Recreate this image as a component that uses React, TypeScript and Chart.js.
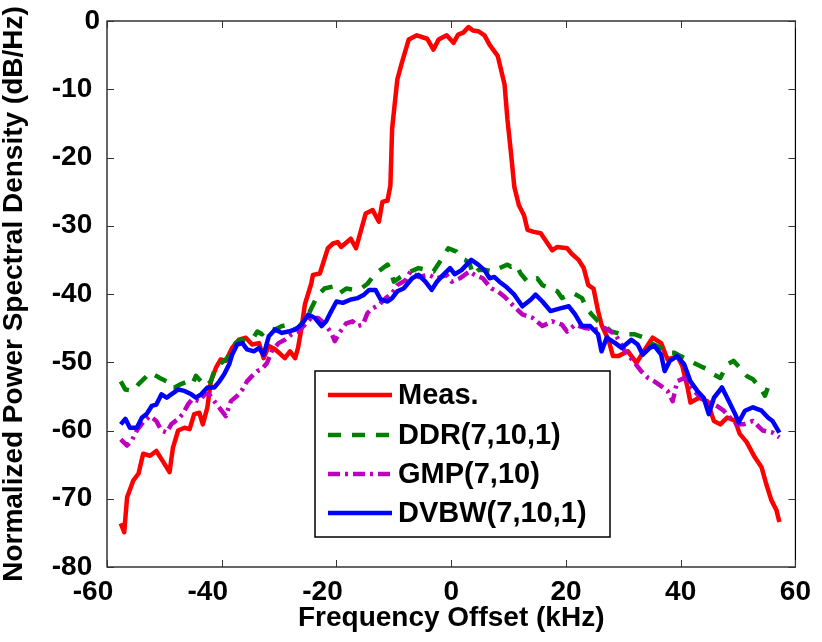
import { useEffect, useRef } from "react";
import { Chart, registerables } from "chart.js";

Chart.register(...registerables);

const FONT = '"Liberation Sans", Arial, Helvetica, sans-serif';

const xTickValues = [-60, -40, -20, 0, 20, 40, 60];
const yTickValues = [-80, -70, -60, -50, -40, -30, -20, -10, 0];
const xAxisTitle = "Frequency Offset (kHz)";
const yAxisTitle = "Normalized Power Spectral Density (dB/Hz)";

const seriesLabels = ["Meas.", "DDR(7,10,1)", "GMP(7,10)", "DVBW(7,10,1)"];
const seriesColors = ["#ff0000", "#008000", "#bf00bf", "#0000ff"];
const seriesDashes: number[][] = [[], [13, 11], [12, 5, 3, 5], []];

const measX = [-57.6,-57.0,-56.5,-55.4,-54.5,-53.7,-52.5,-51.4,-50.2,-49.1,-48.5,-47.6,-46.5,-45.6,-44.8,-43.9,-43.3,-42.5,-41.9,-41.0,-40.2,-39.3,-38.2,-37.0,-35.8,-34.7,-33.5,-32.7,-31.8,-30.7,-29.0,-28.1,-27.2,-26.7,-26.1,-25.5,-24.4,-24.1,-22.9,-21.5,-20.6,-19.8,-19.2,-17.5,-16.6,-14.9,-13.7,-12.6,-12.0,-11.1,-10.6,-10.3,-9.4,-8.6,-7.4,-6.0,-4.2,-3.1,-2.2,-0.8,0.4,1.2,2.1,3.0,3.8,4.7,5.8,6.7,8.1,9.3,9.8,10.4,11.0,11.8,12.7,13.3,14.4,15.6,16.4,17.6,18.5,20.2,21.0,22.2,23.1,23.9,24.8,25.6,26.2,27.4,28.2,29.1,30.8,32.3,33.4,35.1,36.6,37.7,39.4,40.3,41.2,41.7,43.2,44.6,45.8,46.9,48.1,49.5,50.3,51.5,52.9,54.1,54.9,55.8,56.7,57.2];
const measY = [-73.6,-74.9,-69.8,-67.3,-66.3,-63.4,-63.7,-63.0,-64.6,-66.1,-62.5,-60.0,-59.6,-59.8,-57.6,-57.4,-59.1,-56.6,-52.8,-50.8,-49.6,-49.8,-47.9,-46.7,-46.4,-47.4,-47.2,-49.4,-47.6,-48.1,-49.4,-48.4,-49.4,-47.9,-45.0,-41.5,-38.5,-37.2,-37.0,-33.3,-32.6,-32.4,-33.1,-31.9,-33.3,-28.2,-27.7,-29.4,-26.5,-26.3,-24.1,-15.8,-8.6,-6.1,-2.7,-2.1,-2.6,-4.2,-2.7,-2.1,-3.2,-2.0,-1.7,-0.9,-1.4,-1.5,-2.1,-3.5,-5.1,-9.3,-14.4,-19.2,-24.3,-27.0,-28.5,-30.6,-30.9,-31.1,-32.1,-33.6,-33.1,-33.3,-34.1,-35.0,-36.2,-38.7,-39.2,-42.5,-44.5,-46.7,-49.1,-49.1,-48.4,-50.1,-48.6,-46.4,-47.2,-49.6,-49.1,-50.6,-53.7,-55.9,-55.2,-55.7,-58.6,-59.1,-58.1,-58.6,-60.5,-61.7,-63.9,-65.4,-67.8,-70.2,-71.7,-73.4];

const ddrX = [-57.6,-56.8,-55.4,-54.5,-53.4,-52.5,-51.4,-50.8,-49.6,-49.1,-48.2,-47.1,-45.9,-45.1,-44.5,-43.6,-42.7,-41.9,-41.3,-40.4,-39.6,-38.4,-37.6,-36.7,-35.8,-34.7,-33.8,-33.0,-31.8,-30.7,-29.5,-28.4,-27.5,-26.7,-25.8,-24.9,-24.1,-23.2,-22.1,-20.6,-19.5,-18.3,-16.9,-15.7,-14.6,-13.2,-11.1,-10.6,-10.0,-8.8,-7.1,-5.7,-4.2,-3.1,-2.0,-0.5,0.9,1.8,2.4,3.2,3.8,4.7,6.1,7.3,8.4,9.8,10.4,11.3,12.1,13.3,14.1,15.0,15.9,17.3,18.5,19.3,20.5,21.3,22.8,23.6,24.5,25.6,26.8,27.9,29.7,32.0,33.7,34.8,36.6,37.7,38.9,40.0,41.2,42.3,43.5,44.6,45.8,46.9,48.1,49.2,50.3,51.5,52.6,53.8,54.7,55.2,56.4];
const ddrY = [-52.8,-54.0,-54.2,-53.2,-52.3,-51.5,-52.0,-52.3,-52.8,-53.7,-53.7,-53.2,-52.8,-53.2,-52.0,-52.8,-53.5,-52.8,-51.3,-50.3,-49.8,-48.9,-47.2,-46.7,-46.9,-46.7,-45.5,-45.9,-45.0,-45.2,-44.7,-44.5,-45.2,-45.0,-44.0,-43.0,-41.6,-40.1,-39.2,-38.9,-39.9,-39.2,-39.4,-39.2,-38.5,-37.0,-35.7,-36.5,-38.2,-37.5,-36.7,-36.2,-36.5,-36.7,-35.3,-33.3,-33.8,-34.8,-35.0,-35.5,-37.2,-36.5,-36.5,-36.7,-36.2,-35.7,-36.0,-35.7,-37.0,-38.2,-37.9,-37.7,-38.7,-39.2,-39.6,-40.6,-40.1,-39.9,-40.6,-42.1,-43.0,-44.0,-44.7,-45.5,-45.9,-45.9,-46.4,-47.2,-47.9,-48.6,-48.6,-49.1,-49.6,-50.1,-50.6,-51.0,-51.8,-52.3,-50.3,-49.8,-50.8,-52.0,-52.5,-53.7,-54.9,-53.7,-53.5];

const gmpX = [-57.6,-56.5,-55.7,-54.8,-53.7,-52.5,-51.4,-50.5,-49.6,-48.8,-47.6,-46.8,-45.9,-45.1,-43.9,-43.0,-42.2,-41.3,-40.2,-39.3,-38.4,-37.3,-36.4,-35.6,-34.7,-33.8,-33.0,-32.1,-31.3,-30.1,-29.0,-27.8,-26.7,-25.5,-24.4,-23.2,-22.1,-20.9,-20.3,-19.5,-18.3,-17.2,-16.3,-15.4,-14.6,-13.7,-12.6,-11.4,-10.3,-9.4,-8.0,-7.1,-5.7,-4.0,-2.5,-0.8,0.1,1.5,3.2,4.1,5.5,7.0,8.1,9.3,10.7,12.4,14.2,15.9,17.6,19.3,20.2,21.6,23.4,25.1,26.8,28.6,30.3,32.0,33.1,34.3,35.4,36.6,37.7,38.6,39.4,40.6,41.4,42.9,44.6,46.3,47.5,48.6,49.8,50.9,52.6,54.3,56.0,57.2];
const gmpY = [-61.3,-62.2,-61.5,-60.0,-58.8,-57.9,-58.6,-60.0,-60.3,-59.1,-58.3,-57.6,-56.2,-55.4,-55.7,-54.7,-54.7,-55.7,-56.9,-57.9,-55.7,-54.9,-54.0,-52.8,-52.0,-51.3,-51.0,-50.1,-48.4,-47.2,-46.7,-45.9,-45.5,-44.5,-43.5,-43.5,-44.3,-45.7,-46.9,-45.7,-44.3,-44.0,-44.7,-44.5,-42.8,-42.1,-41.6,-40.6,-39.9,-38.7,-38.0,-36.7,-37.5,-37.2,-37.7,-37.2,-38.2,-37.7,-36.7,-37.2,-37.7,-39.2,-39.6,-40.4,-41.6,-43.0,-43.5,-44.7,-44.0,-44.5,-45.5,-44.5,-45.0,-45.2,-45.0,-45.9,-48.4,-50.1,-51.3,-52.3,-52.8,-53.5,-54.2,-55.7,-52.8,-52.3,-53.2,-54.7,-55.7,-56.4,-57.1,-58.1,-59.1,-59.1,-58.6,-60.0,-60.3,-61.0];

const dvbwX = [-57.6,-56.8,-56.0,-54.8,-53.9,-53.1,-52.2,-51.4,-50.5,-49.6,-48.8,-47.6,-46.5,-45.3,-44.5,-43.6,-42.5,-41.3,-40.4,-39.6,-38.7,-38.2,-37.3,-36.4,-35.6,-34.4,-33.5,-32.7,-31.8,-30.7,-29.5,-28.4,-27.2,-26.1,-24.9,-23.8,-22.6,-21.8,-20.9,-20.0,-18.9,-17.5,-16.3,-15.2,-14.3,-13.2,-12.3,-11.1,-10.3,-9.4,-8.3,-6.8,-5.7,-4.5,-3.4,-2.5,-1.4,-0.2,0.6,1.8,2.7,3.5,4.7,5.8,6.7,7.5,8.4,9.5,11.0,12.4,13.9,14.7,15.9,17.3,19.0,20.5,21.6,22.8,24.2,25.6,26.2,27.1,28.6,29.7,31.4,32.5,33.4,34.6,35.4,36.6,37.2,38.1,39.4,40.6,41.7,42.9,44.0,44.9,45.8,47.2,48.4,49.5,50.1,51.2,52.6,54.1,55.2,56.0,57.2];
const dvbwY = [-59.1,-58.3,-59.6,-59.6,-58.1,-57.6,-56.4,-56.2,-54.7,-55.2,-54.7,-54.0,-54.2,-54.7,-55.2,-54.7,-53.7,-53.7,-52.8,-51.8,-50.3,-48.9,-47.4,-47.2,-48.1,-48.4,-47.9,-48.9,-46.2,-45.2,-45.7,-45.5,-45.2,-44.5,-43.0,-43.5,-44.7,-44.0,-42.5,-41.1,-41.3,-40.8,-40.6,-40.1,-39.4,-39.4,-40.8,-41.1,-40.6,-39.6,-39.2,-37.7,-37.2,-38.2,-39.4,-38.2,-37.2,-36.2,-37.1,-36.5,-35.7,-35.0,-35.7,-36.5,-37.7,-37.5,-38.2,-38.9,-40.1,-41.8,-40.8,-40.1,-41.1,-42.5,-42.1,-41.8,-43.0,-44.7,-44.7,-45.9,-48.4,-46.4,-47.2,-47.9,-46.7,-47.4,-48.9,-47.9,-47.6,-48.9,-51.3,-49.8,-49.1,-50.3,-52.8,-54.2,-55.2,-57.6,-55.2,-53.7,-55.7,-57.6,-58.8,-57.1,-56.6,-57.1,-58.1,-58.6,-60.3];

const seriesX = [measX, ddrX, gmpX, dvbwX];
const seriesY = [measY, ddrY, gmpY, dvbwY];

function zip(xs: number[], ys: number[]) {
  const n = Math.min(xs.length, ys.length);
  const out: { x: number; y: number }[] = [];
  for (let i = 0; i < n; i++) out.push({ x: xs[i], y: ys[i] });
  return out;
}

const boxPlugin = {
  id: "matlabBox",
  afterDraw(chart: any) {
    const { ctx, chartArea: a, scales } = chart;
    ctx.save();
    ctx.strokeStyle = "#000";
    ctx.lineWidth = 1.2;
    ctx.setLineDash([]);
    ctx.strokeRect(a.left, a.top, a.right - a.left, a.bottom - a.top);
    ctx.strokeStyle = "#333";
    ctx.lineWidth = 1;
    const tl = 7;
    ctx.beginPath();
    for (const t of scales.x.ticks) {
      const px = Math.round(scales.x.getPixelForValue(t.value)) + 0.5;
      ctx.moveTo(px, a.bottom);
      ctx.lineTo(px, a.bottom - tl);
      ctx.moveTo(px, a.top);
      ctx.lineTo(px, a.top + tl);
    }
    for (const t of scales.y.ticks) {
      const py = Math.round(scales.y.getPixelForValue(t.value)) + 0.5;
      ctx.moveTo(a.left, py);
      ctx.lineTo(a.left + tl, py);
      ctx.moveTo(a.right, py);
      ctx.lineTo(a.right - tl, py);
    }
    ctx.stroke();

    // legend
    const lx = 315, ly = 371, lw = 295, lh = 166;
    ctx.fillStyle = "#fff";
    ctx.fillRect(lx, ly, lw, lh);
    ctx.strokeStyle = "#000";
    ctx.lineWidth = 1.5;
    ctx.strokeRect(lx, ly, lw, lh);
    const rowY = [395, 435, 474, 513];
    ctx.font = `bold 29px ${FONT}`;
    ctx.textBaseline = "middle";
    ctx.textAlign = "left";
    chart.data.datasets.forEach((ds: any, i: number) => {
      const y = rowY[i];
      ctx.strokeStyle = ds.borderColor;
      ctx.lineWidth = 4.5;
      ctx.setLineDash(ds.borderDash || []);
      ctx.beginPath();
      ctx.moveTo(328, y);
      ctx.lineTo(392, y);
      ctx.stroke();
      ctx.setLineDash([]);
      ctx.fillStyle = "#000";
      ctx.fillText(ds.label, 398, y + 1);
    });
    ctx.restore();
  },
};

export default function App() {
  const ref = useRef<HTMLCanvasElement>(null);
  useEffect(() => {
    if (!ref.current) return;
    const datasets = seriesLabels.map((label, i) => ({
      label,
      data: zip(seriesX[i], seriesY[i]),
      borderColor: seriesColors[i],
      backgroundColor: seriesColors[i],
      borderDash: seriesDashes[i],
      borderWidth: 4.5,
      borderJoinStyle: "round" as const,
      borderCapStyle: "butt" as const,
      pointRadius: 0,
      tension: 0,
      fill: false,
      order: seriesLabels.length - i,
    }));
    const chart = new Chart(ref.current, {
      type: "line",
      data: { datasets },
      plugins: [boxPlugin],
      options: {
        animation: false,
        responsive: false,
        devicePixelRatio: 1,
        layout: { padding: { left: 0, top: 18, right: 20, bottom: 0 } },
        plugins: { legend: { display: false }, tooltip: { enabled: false } },
        scales: {
          x: {
            type: "linear",
            min: -60,
            max: 60,
            afterBuildTicks: (s: any) => {
              s.ticks = xTickValues.map((v) => ({ value: v }));
            },
            afterFit: (s: any) => {
              s.height = 75;
            },
            grid: { display: false, drawTicks: false, tickLength: 0 },
            border: { display: false },
            ticks: {
              color: "#000",
              padding: 11,
              maxRotation: 0,
              autoSkip: false,
              font: { family: FONT, size: 28, weight: "bold", lineHeight: 1 },
              callback: (v: any) => (Number(v) < 0 ? `${v}\u2003` : `${v}`),
            },
            title: {
              display: true,
              text: xAxisTitle,
              color: "#000",
              font: { family: FONT, size: 28, weight: "bold", lineHeight: 1 },
              padding: { top: 0, bottom: 10 },
            },
          },
          y: {
            type: "linear",
            min: -80,
            max: 0,
            afterBuildTicks: (s: any) => {
              s.ticks = yTickValues.map((v) => ({ value: v }));
            },
            afterFit: (s: any) => {
              s.width = 107;
            },
            grid: { display: false, drawTicks: false, tickLength: 0 },
            border: { display: false },
            ticks: {
              color: "#000",
              padding: 7,
              autoSkip: false,
              font: { family: FONT, size: 28, weight: "bold", lineHeight: 1 },
              callback: (v: any) => (Number(v) < 0 ? `${v} ` : `${v}`),
            },
            title: {
              display: true,
              text: yAxisTitle,
              color: "#000",
              font: { family: FONT, size: 28, weight: "bold", lineHeight: 1 },
              padding: { top: 0, bottom: 0 },
            },
          },
        },
      },
    } as any);
    return () => chart.destroy();
  }, []);
  return (
    <div style={{ position: "absolute", left: 0, top: 0, width: 822, height: 642, background: "#fff" }}>
      <canvas ref={ref} width={822} height={642} style={{ display: "block" }} />
    </div>
  );
}
